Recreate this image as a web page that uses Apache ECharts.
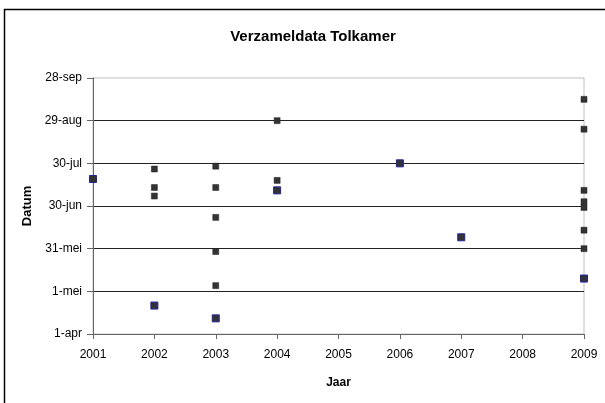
<!DOCTYPE html>
<html>
<head>
<meta charset="utf-8">
<script src="https://cdn.jsdelivr.net/npm/echarts@6/dist/echarts.min.js"></script>
<style>
  html, body { margin: 0; padding: 0; background: #fff; }
  #chart { width: 605px; height: 403px; }
</style>
</head>
<body>
<div id="chart"></div>
<script>
// datums als dagen na 1 april
const dateLabels = ['1-apr', '1-mei', '31-mei', '30-jun', '30-jul', '29-aug', '28-sep']

// grijze punten
const darkYears = [2002, 2002, 2002, 2003, 2003, 2003, 2003, 2003, 2004, 2004, 2009, 2009, 2009, 2009, 2009, 2009, 2009]
const darkDays = [116, 103, 97, 118, 103, 82, 58, 34, 150, 108, 165, 144, 101, 93, 89, 73, 60]

// punten met blauwe rand
const blueYears = [2001, 2002, 2003, 2004, 2006, 2007, 2009]
const blueDays = [109, 20, 11, 101, 120, 68, 39]

const font = 'Liberation Sans, Arial, sans-serif'

let myChart = echarts.init(document.getElementById('chart'))

let option = {
  animation: false,
  backgroundColor: '#fff',
  title: {
    text: 'Verzameldata Tolkamer',
    left: 308,
    top: 24,
    textAlign: 'center',
    textStyle: { fontFamily: font, fontSize: 15, fontWeight: 'bold', color: '#000' },
  },
  graphic: [
    {
      type: 'rect',
      shape: { x: 4.5, y: 9.5, width: 700, height: 500 },
      style: { fill: 'none', stroke: '#000', lineWidth: 1.5 },
      silent: true,
    },
  ],
  grid: {
    left: 93,
    right: 21,
    top: 78,
    bottom: 69,
    show: true,
    borderColor: '#c0c0c0',
    borderWidth: 1,
  },
  xAxis: {
    type: 'value',
    min: 2001,
    max: 2009,
    interval: 1,
    name: 'Jaar',
    nameLocation: 'middle',
    nameGap: 43,
    nameTextStyle: { fontFamily: font, fontSize: 12, fontWeight: 'bold', color: '#000' },
    axisLine: { show: true, lineStyle: { color: '#666', width: 1 } },
    axisTick: { show: true, length: 5, lineStyle: { color: '#666' } },
    axisLabel: {
      fontFamily: font,
      fontSize: 12,
      color: '#000',
      margin: 15,
      formatter: (v) => String(v),
    },
    splitLine: { show: false },
  },
  yAxis: {
    type: 'value',
    min: 0,
    max: 180,
    interval: 30,
    name: 'Datum',
    nameLocation: 'middle',
    nameGap: 59,
    nameRotate: 90,
    nameTextStyle: { fontFamily: font, fontSize: 13, fontWeight: 'bold', color: '#000' },
    axisLine: { show: true, lineStyle: { color: '#666', width: 1 } },
    axisTick: { show: true, length: 6, lineStyle: { color: '#666' } },
    axisLabel: {
      fontFamily: font,
      fontSize: 12,
      color: '#000',
      margin: 11,
      formatter: (v) => dateLabels[Math.round(v / 30)],
    },
    splitLine: {
      show: true,
      showMaxLine: false,
      lineStyle: { color: '#222', width: 1 },
    },
  },
  series: [
    {
      name: 'grijs',
      type: 'scatter',
      symbol: 'rect',
      symbolSize: 6,
      itemStyle: { color: '#333', borderColor: '#222', borderWidth: 0.5, opacity: 1 },
      data: darkYears.map((y, i) => [y, darkDays[i]]),
    },
    {
      name: 'blauw',
      type: 'scatter',
      symbol: 'rect',
      symbolSize: 7,
      itemStyle: { color: '#333', borderColor: '#22229a', borderWidth: 1, opacity: 1 },
      data: blueYears.map((y, i) => [y, blueDays[i]]),
    },
  ],
}
myChart.setOption(option)
</script>
</body>
</html>
